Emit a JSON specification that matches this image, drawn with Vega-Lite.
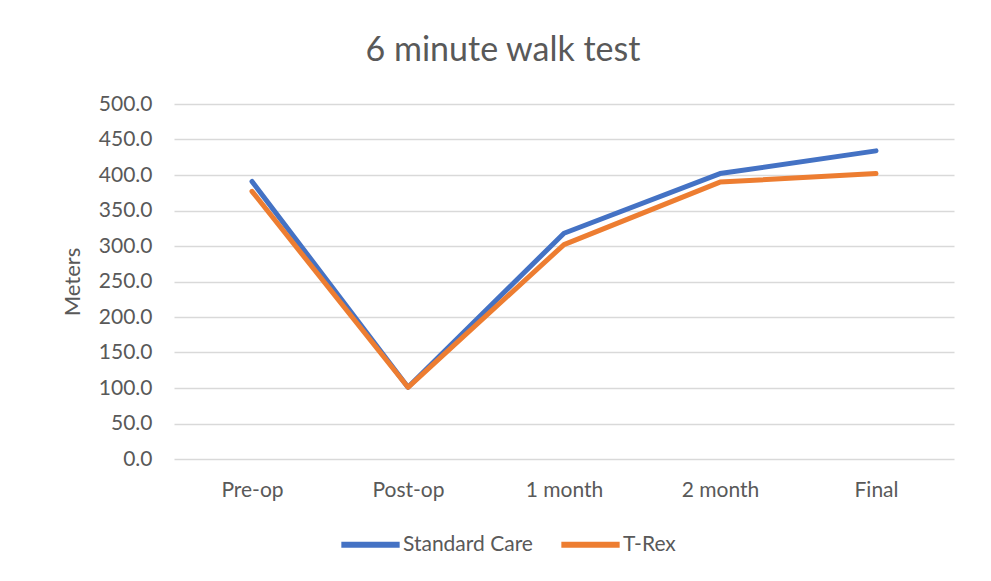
{
  "$schema": "https://vega.github.io/schema/vega-lite/v6.json",
  "autosize": {"type": "none"},
  "width": 780,
  "height": 355,
  "padding": {"left": 174, "top": 104, "right": 37, "bottom": 122},
  "background": "white",
  "title": {
    "text": "6 minute walk test",
    "fontSize": 34,
    "font": "Lato",
    "fontWeight": "normal",
    "color": "#595959",
    "anchor": "middle",
    "dx": -61,
    "offset": 25
  },
  "data": {
    "values": [
      {"time": "Pre-op", "series": "Standard Care", "meters": 391},
      {"time": "Post-op", "series": "Standard Care", "meters": 101},
      {"time": "1 month", "series": "Standard Care", "meters": 318},
      {"time": "2 month", "series": "Standard Care", "meters": 402},
      {"time": "Final", "series": "Standard Care", "meters": 434},
      {"time": "Pre-op", "series": "T-Rex", "meters": 377},
      {"time": "Post-op", "series": "T-Rex", "meters": 101},
      {"time": "1 month", "series": "T-Rex", "meters": 302},
      {"time": "2 month", "series": "T-Rex", "meters": 390},
      {"time": "Final", "series": "T-Rex", "meters": 402}
    ]
  },
  "mark": {"type": "line", "strokeWidth": 5, "strokeCap": "round", "strokeJoin": "round"},
  "encoding": {
    "x": {
      "field": "time",
      "type": "nominal",
      "sort": ["Pre-op", "Post-op", "1 month", "2 month", "Final"],
      "scale": {"padding": 0.5},
      "axis": {
        "title": null,
        "labelAngle": 0,
        "domain": false,
        "ticks": false,
        "labelPadding": 20,
        "labelFontSize": 21,
        "labelFont": "Lato",
        "labelColor": "#595959"
      }
    },
    "y": {
      "field": "meters",
      "type": "quantitative",
      "scale": {"domain": [0, 500], "nice": false},
      "axis": {
        "values": [0, 50, 100, 150, 200, 250, 300, 350, 400, 450, 500],
        "format": ".1f",
        "title": "Meters",
        "titleFontSize": 22,
        "titleFont": "Lato",
        "titleFontWeight": "normal",
        "titleColor": "#595959",
        "titlePadding": 14,
        "domain": false,
        "ticks": false,
        "labelPadding": 22,
        "labelFontSize": 21,
        "labelFont": "Lato",
        "labelColor": "#595959",
        "gridColor": "#d9d9d9",
        "gridWidth": 1.5
      }
    },
    "color": {
      "field": "series",
      "type": "nominal",
      "scale": {"domain": ["Standard Care", "T-Rex"], "range": ["#4472C4", "#ED7D31"]},
      "legend": {
        "title": null,
        "orient": "none",
        "direction": "horizontal",
        "legendX": 164,
        "legendY": 408,
        "symbolType": "stroke",
        "symbolSize": 3400,
        "symbolStrokeWidth": 6,
        "labelFontSize": 21,
        "labelFont": "Lato",
        "labelColor": "#595959",
        "labelOffset": 0,
        "columnPadding": 16
      }
    }
  },
  "config": {"view": {"stroke": null}}
}
